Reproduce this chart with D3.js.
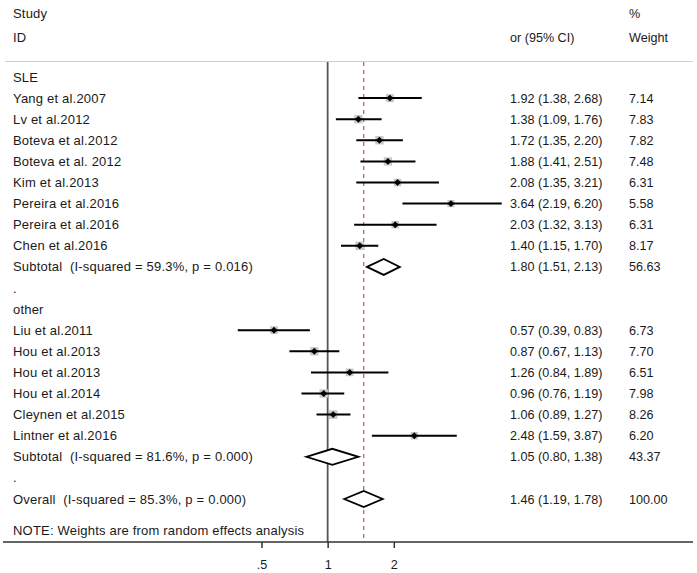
<!DOCTYPE html>
<html><head><meta charset="utf-8">
<script src="https://cdn.jsdelivr.net/npm/d3@7"></script>
<style>body{margin:0;background:#fff}svg{display:block}text{font-family:"Liberation Sans",Arial,sans-serif;font-size:12.6px;fill:#1a1a1a;white-space:pre}
text.lab{font-size:13px;letter-spacing:0.2px}</style>
</head><body><svg id="c" width="697" height="573"></svg>
<script>
// ---- data ----
const sleStudies = ["Yang et al.2007","Lv et al.2012","Boteva et al.2012","Boteva et al. 2012","Kim et al.2013","Pereira et al.2016","Pereira et al.2016","Chen et al.2016"];
const sleOR  = [1.92,1.38,1.72,1.88,2.08,3.64,2.03,1.40];
const sleLo  = [1.38,1.09,1.35,1.41,1.35,2.19,1.32,1.15];
const sleHi  = [2.68,1.76,2.20,2.51,3.21,6.20,3.13,1.70];
const sleW   = [7.14,7.83,7.82,7.48,6.31,5.58,6.31,8.17];
const otherStudies = ["Liu et al.2011","Hou et al.2013","Hou et al.2013","Hou et al.2014","Cleynen et al.2015","Lintner et al.2016"];
const otherOR = [0.57,0.87,1.26,0.96,1.06,2.48];
const otherLo = [0.39,0.67,0.84,0.76,0.89,1.59];
const otherHi = [0.83,1.13,1.89,1.19,1.27,3.87];
const otherW  = [6.73,7.70,6.51,7.98,8.26,6.20];
const subLabels = ["Subtotal  (I-squared = 59.3%, p = 0.016)","Subtotal  (I-squared = 81.6%, p = 0.000)"];
const subOR = [1.80,1.05], subLo=[1.51,0.80], subHi=[2.13,1.38], subW=[56.63,43.37];
const overallLabel = "Overall  (I-squared = 85.3%, p = 0.000)";
const overallOR = 1.46, overallLo = 1.19, overallHi = 1.78, overallW = 100.00;
const groupNames = ["SLE","other"];
const tickValues = [0.5,1,2];
const tickLabels = [".5","1","2"];
const noteText = "NOTE: Weights are from random effects analysis";

// ---- rows ----
const rows = [];
rows.push({type:"head",label:groupNames[0]});
sleStudies.forEach((s,i)=>rows.push({type:"study",label:s,or:sleOR[i],lo:sleLo[i],hi:sleHi[i],w:sleW[i]}));
rows.push({type:"sub",label:subLabels[0],or:subOR[0],lo:subLo[0],hi:subHi[0],w:subW[0]});
rows.push({type:"dot",label:"."});
rows.push({type:"head",label:groupNames[1]});
otherStudies.forEach((s,i)=>rows.push({type:"study",label:s,or:otherOR[i],lo:otherLo[i],hi:otherHi[i],w:otherW[i]}));
rows.push({type:"sub",label:subLabels[1],or:subOR[1],lo:subLo[1],hi:subHi[1],w:subW[1]});
rows.push({type:"dot",label:"."});
rows.push({type:"sub",label:overallLabel,or:overallOR,lo:overallLo,hi:overallHi,w:overallW});

const svg = d3.select("#c");
const x = d3.scaleLog().domain([0.5,2]).range([261.5,393.8]);
const y = i => 77 + 21.1*i;
const f2 = d3.format(".2f");
const plotTop = 62, plotBot = 542;

// header
svg.append("text").attr("class","lab").attr("x",13).attr("y",18).text("Study");
svg.append("text").attr("class","lab").attr("x",13).attr("y",42).text("ID");
svg.append("text").attr("x",510).attr("y",42).text("or (95% CI)");
svg.append("text").attr("x",629).attr("y",18).text("%");
svg.append("text").attr("x",629).attr("y",42).text("Weight");
svg.append("line").attr("x1",5).attr("x2",693).attr("y1",61.5).attr("y2",61.5).attr("stroke","#cfcfcf").attr("stroke-width",1);

// reference lines
svg.append("line").attr("x1",x(1)).attr("x2",x(1)).attr("y1",plotTop).attr("y2",plotBot).attr("stroke","#555").attr("stroke-width",1.8);
svg.append("line").attr("x1",x(overallOR)).attr("x2",x(overallOR)).attr("y1",plotTop).attr("y2",plotBot)
  .attr("stroke","#9e3a4c").attr("stroke-width",1).attr("stroke-dasharray","4,4");

// labels
rows.forEach((r,i)=>{
  svg.append("text").attr("class","lab").attr("x",13).attr("y",y(i)+4.5).text(r.label);
  if(r.or!==undefined){
    svg.append("text").attr("x",510).attr("y",y(i)+4.5).text(`${f2(r.or)} (${f2(r.lo)}, ${f2(r.hi)})`);
    svg.append("text").attr("x",629).attr("y",y(i)+4.5).text(f2(r.w));
  }
});
svg.append("text").attr("class","lab").attr("x",13).attr("y",535).text(noteText);

// study marks
const studies = rows.map((r,i)=>({...r,i})).filter(r=>r.type==="study");
const g = svg.append("g");
g.selectAll("rect.box").data(studies).join("rect")
  .attr("x",d=>x(d.or)-1.5*Math.sqrt(d.w)).attr("y",d=>y(d.i)-1.5*Math.sqrt(d.w))
  .attr("width",d=>3*Math.sqrt(d.w)).attr("height",d=>3*Math.sqrt(d.w))
  .attr("fill","#c8c8c8");
g.selectAll("line.ci").data(studies).join("line")
  .attr("x1",d=>x(d.lo)).attr("x2",d=>x(d.hi)).attr("y1",d=>y(d.i)).attr("y2",d=>y(d.i))
  .attr("stroke","#000").attr("stroke-width",2);
g.selectAll("path.pt").data(studies).join("path")
  .attr("transform",d=>`translate(${x(d.or)},${y(d.i)})`)
  .attr("d",d3.symbol(d3.symbolDiamond2,30)).attr("fill","#000");

// diamonds
const subs = rows.map((r,i)=>({...r,i})).filter(r=>r.type==="sub");
g.selectAll("path.dia").data(subs).join("path")
  .attr("d",d=>{const yy=y(d.i);return `M${x(d.lo)},${yy}L${x(d.or)},${yy-8}L${x(d.hi)},${yy}L${x(d.or)},${yy+8}Z`;})
  .attr("fill","#fff").attr("stroke","#000").attr("stroke-width",1.8);

// axis
const ax = svg.append("g").attr("transform",`translate(0,${plotBot})`);
ax.append("line").attr("x1",3).attr("x2",693).attr("stroke","#333").attr("stroke-width",1.5);
const axis = d3.axisBottom(x).tickValues(tickValues).tickFormat((d,i)=>tickLabels[i]).tickSize(6).tickPadding(12);
const ag = svg.append("g").attr("transform",`translate(0,${plotBot})`).call(axis);
ag.select(".domain").remove();
ag.selectAll(".tick line").attr("stroke","#333").attr("stroke-width",1.5);
ag.selectAll(".tick text").attr("font-size",12.6).attr("font-family","Liberation Sans, Arial, sans-serif").attr("fill","#1a1a1a");
</script></body></html>
